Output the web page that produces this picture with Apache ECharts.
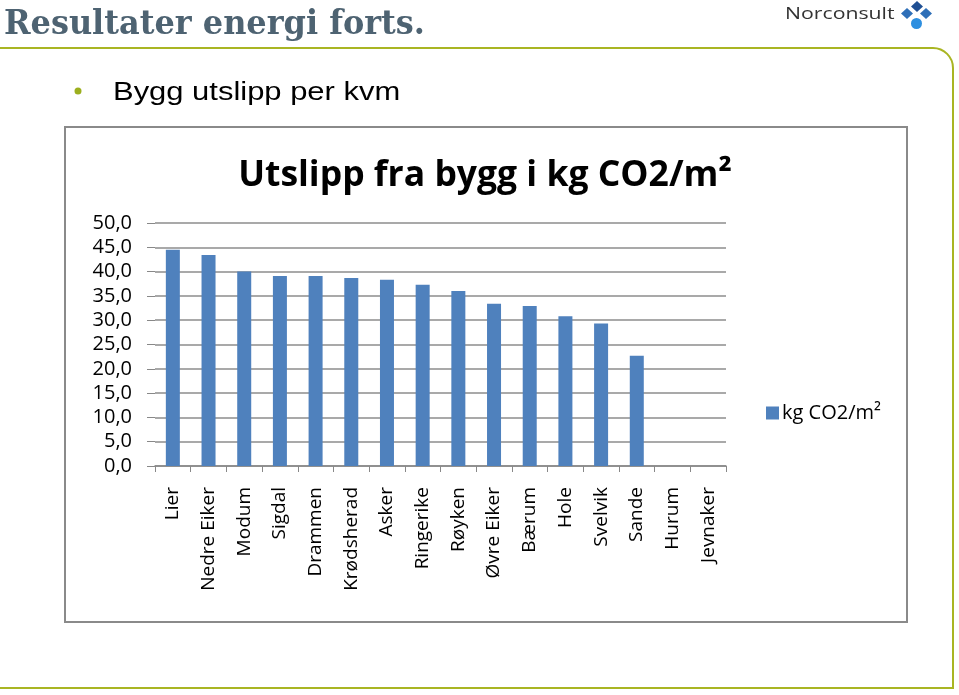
<!DOCTYPE html>
<html>
<head>
<meta charset="utf-8">
<script src="https://cdn.jsdelivr.net/npm/echarts@6/dist/echarts.min.js"></script>
<style>
html,body{margin:0;padding:0;background:#fff;}
#c{width:959px;height:695px;}
</style>
</head>
<body>
<div id="c"></div>
<script>
const categories = ["Lier","Nedre Eiker","Modum","Sigdal","Drammen","Krødsherad","Asker","Ringerike","Røyken","Øvre Eiker","Bærum","Hole","Svelvik","Sande","Hurum","Jevnaker"];
const values = [44.5, 43.4, 40.0, 39.1, 39.1, 38.7, 38.3, 37.3, 36.0, 33.4, 32.9, 30.8, 29.3, 22.7, 0, 0];
const seriesName = "kg CO2/m²";
const chartTitle = "Utslipp fra bygg i kg CO2/m²";
const slideTitle = "Resultater energi forts.";
const bulletText = "Bygg utslipp per kvm";

const chart = echarts.init(document.getElementById('c'));
const olive = '#a9b523';
const lab = '"Open Sans", sans-serif';
chart.setOption({
  animation: false,
  backgroundColor: '#fff',
  title: {
    text: chartTitle,
    left: 480, top: 153, textAlign: 'center',
    textStyle: {fontFamily: '"Open Sans", sans-serif', fontWeight: 'bold', fontSize: 35.5, color: '#000'}
  },
  legend: {
    data: [seriesName],
    left: 761, top: 398,
    icon: 'rect', itemWidth: 13, itemHeight: 13, itemGap: 6,
    textStyle: {fontFamily: lab, fontSize: 20, color: '#000', padding: [0,0,0,-2]}
  },
  grid: {left: 155, right: 233, top: 223, bottom: 229, containLabel: false},
  xAxis: {
    type: 'category', data: categories,
    axisLine: {show: true, lineStyle: {color: '#888', width: 1.5}},
    axisTick: {show: true, length: 6, lineStyle: {color: '#888'}},
    axisLabel: {rotate: 90, margin: 21, fontFamily: lab, fontSize: 19, color: '#000', interval: 0}
  },
  yAxis: {
    type: 'value', min: 0, max: 50, interval: 5,
    axisLine: {show: false},
    axisTick: {show: true, length: 8, lineStyle: {color: '#888'}},
    splitLine: {lineStyle: {color: '#8c8c8c', width: 1.5}},
    axisLabel: {margin: 23, fontFamily: lab, fontSize: 20, color: '#000',
      formatter: v => v.toFixed(1).replace('.', ',')}
  },
  series: [{
    name: seriesName, type: 'bar', data: values,
    barWidth: 14, itemStyle: {color: '#4f81bd'}
  }],
  graphic: [
    {type: 'rect', z: -10, shape: {x: 65, y: 127, width: 842, height: 495}, style: {fill: '#fff', stroke: '#8a8a8a', lineWidth: 2}},
    {type: 'polyline', z: -10, shape: {points: [[0,48],[933,48]]}, style: {stroke: olive, lineWidth: 2}},
    {type: 'arc', z: -10, shape: {cx: 933, cy: 68, r: 20, startAngle: -Math.PI/2, endAngle: 0}, style: {stroke: olive, lineWidth: 2, fill: null}},
    {type: 'polyline', z: -10, shape: {points: [[953,68],[953,688],[0,688]]}, style: {stroke: olive, lineWidth: 2}},
    {type: 'text', x: 4, y: 8, scaleX: 0.94, style: {text: slideTitle, font: 'bold 34px "DejaVu Serif", serif', fill: '#4e6372'}},
    {type: 'text', x: 785, y: 6, scaleX: 1.25, style: {text: 'Norconsult', font: '17px "Open Sans", sans-serif', fill: '#333'}},
    {type: 'polygon', shape: {points: [[917,1],[923,6.5],[917,12],[911,6.5]]}, style: {fill: '#1f4f93'}},
    {type: 'polygon', shape: {points: [[907,8],[913,13.5],[907,19],[901,13.5]]}, style: {fill: '#2e6fb8'}},
    {type: 'polygon', shape: {points: [[926,8],[932,13.5],[926,19],[920,13.5]]}, style: {fill: '#2e6fb8'}},
    {type: 'circle', shape: {cx: 916.5, cy: 23.5, r: 5.5}, style: {fill: '#2d8fe0'}},
    {type: 'circle', shape: {cx: 78, cy: 91, r: 3.5}, style: {fill: '#9caf1e'}},
    {type: 'text', x: 113, y: 80, scaleX: 1.19, style: {text: bulletText, font: '26px "Liberation Sans", Arial, sans-serif', fill: '#000'}}
  ]
});
</script>
</body>
</html>
